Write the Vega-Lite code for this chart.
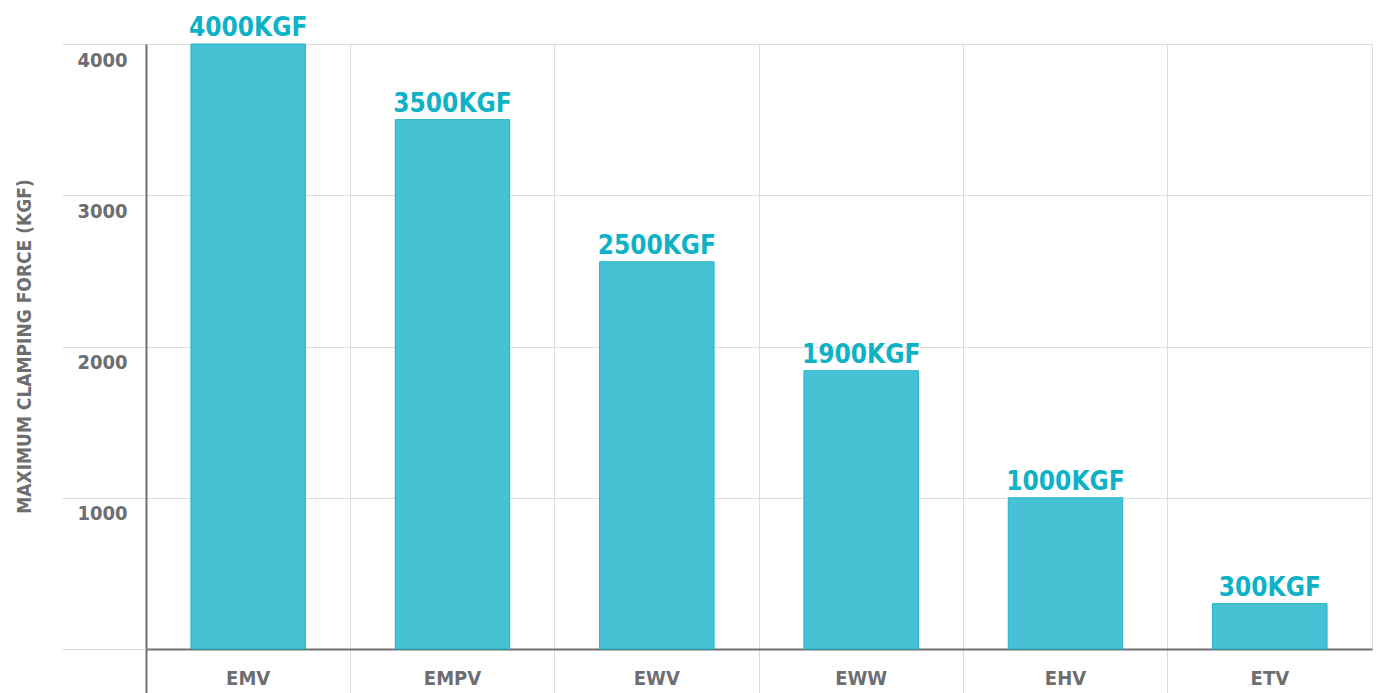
{
  "$schema": "https://vega.github.io/schema/vega-lite/v6.json",
  "width": 1226,
  "height": 605,
  "autosize": "none",
  "padding": {"left": 146, "top": 44, "right": 6, "bottom": 44},
  "background": "white",
  "config": {
    "view": {"stroke": "#dcdcdc", "strokeWidth": 1},
    "font": "DejaVu Sans Condensed"
  },
  "data": {
    "values": [
      {"series": "EMV", "force": 4000, "label": "4000KGF"},
      {"series": "EMPV", "force": 3500, "label": "3500KGF"},
      {"series": "EWV", "force": 2560, "label": "2500KGF"},
      {"series": "EWW", "force": 1840, "label": "1900KGF"},
      {"series": "EHV", "force": 1000, "label": "1000KGF"},
      {"series": "ETV", "force": 300, "label": "300KGF"}
    ]
  },
  "encoding": {
    "x": {
      "field": "series",
      "type": "nominal",
      "sort": null,
      "scale": {"paddingInner": 0, "paddingOuter": 0},
      "axis": {
        "title": null,
        "labelAngle": 0,
        "labelFont": "DejaVu Sans Condensed",
        "labelFontWeight": "bold",
        "labelFontSize": 20,
        "labelColor": "#6d6e71",
        "labelBaseline": "alphabetic",
        "labelPadding": -9,
        "tickSize": 44,
        "tickColor": {"condition": {"test": "datum.value == 'EMV'", "value": "#707070"}, "value": "#dcdcdc"},
        "tickWidth": {"condition": {"test": "datum.value == 'EMV'", "value": 2}, "value": 1},
        "bandPosition": 0,
        "grid": true,
        "gridColor": "#dcdcdc",
        "gridWidth": 1,
        "domainColor": "#707070",
        "domainWidth": 2
      }
    },
    "y": {
      "field": "force",
      "type": "quantitative",
      "scale": {"domain": [0, 4000], "nice": false},
      "axis": {
        "values": [0, 1000, 2000, 3000, 4000],
        "format": "d",
        "title": "MAXIMUM CLAMPING FORCE (KGF)",
        "titleFont": "DejaVu Sans Condensed",
        "titleFontWeight": "bold",
        "titleFontSize": 19,
        "titleColor": "#6d6e71",
        "titleAngle": 270,
        "titleAlign": "center",
        "titleBaseline": "alphabetic",
        "titleX": -116,
        "titleY": 302,
        "labelExpr": "datum.value == 0 ? '' : datum.label",
        "labelFont": "DejaVu Sans Condensed",
        "labelFontWeight": "bold",
        "labelFontSize": 20,
        "labelColor": "#6d6e71",
        "labelBaseline": "alphabetic",
        "labelOffset": 22,
        "labelPadding": -65,
        "labelFlush": false,
        "labelAlign": "right",
        "tickSize": 84,
        "tickColor": "#dcdcdc",
        "tickWidth": 1,
        "grid": true,
        "gridColor": "#dcdcdc",
        "gridWidth": 1,
        "domainColor": "#707070",
        "domainWidth": 2
      }
    }
  },
  "layer": [
    {
      "mark": {"type": "bar", "width": {"band": 0.56}, "fill": "#47c2d4", "stroke": "#1ab4c9", "strokeWidth": 1}
    },
    {
      "mark": {"type": "text", "baseline": "alphabetic", "dy": -8, "font": "DejaVu Sans Condensed", "fontWeight": "bold", "fontSize": 26, "color": "#0eb2c7"},
      "encoding": {"text": {"field": "label"}}
    }
  ]
}
